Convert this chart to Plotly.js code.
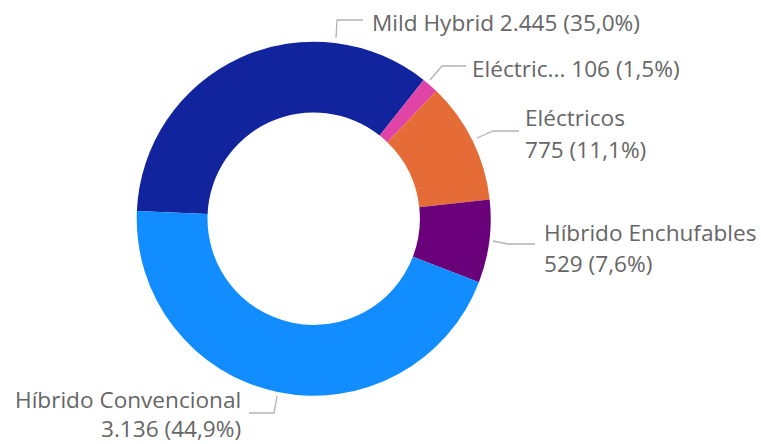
<!DOCTYPE html>
<html>
<head>
<meta charset="utf-8">
<script src="https://cdn.plot.ly/plotly-3.0.1.min.js"></script>
<style>html,body{margin:0;padding:0;background:#fff;}#chart{width:761px;height:444px;}</style>
</head>
<body>
<div id="chart"></div>
<script>
const categories = ['Mild Hybrid', 'Eléctric...', 'Eléctricos', 'Híbrido Enchufables', 'Híbrido Convencional'];
const values = [2445, 106, 775, 529, 3136];
const colors = ['#12239E', '#E044A7', '#E66C37', '#6B007B', '#118DFF'];

const W = 761, H = 444;
const total = values.reduce((a, b) => a + b, 0);
function fmtNum(v) { return String(v).replace(/\B(?=(\d{3})+(?!\d))/g, '.'); }
function fmtPct(v) { return (v / total * 100).toFixed(1).replace('.', ',') + '%'; }
function valText(i) { return fmtNum(values[i]) + ' (' + fmtPct(values[i]) + ')'; }
const px = x => x / W;
const py = y => 1 - y / H;

const font = {family: 'Open Sans, Noto Sans, sans-serif', size: 22.6, color: '#666666'};

// label layout: lines, x(px), y(px) of first line, line step, anchor
const labelLayout = [
  {lines: [categories[0] + ' ' + valText(0)], x: 371, y: 22, step: 31, anchor: 'left'},
  {lines: [categories[1] + ' ' + valText(1)], x: 471, y: 68, step: 31, anchor: 'left'},
  {lines: [categories[2], valText(2)], x: 524, y: 118, step: 31, anchor: 'left'},
  {lines: [categories[3], valText(3)], x: 543, y: 232, step: 31, anchor: 'left'},
  {lines: [categories[4], valText(4)], x: 242, y: 399, step: 29, anchor: 'right'}
];
const leaders = [
  [[336, 38], [337, 20], [363, 20]],
  [[430, 80], [442, 66], [466, 66]],
  [[477, 138], [493, 131], [519, 131]],
  [[493, 241], [508, 244], [535, 244]],
  [[277, 396], [274, 413], [249, 413]]
];

const annotations = [];
labelLayout.forEach(l => {
  l.lines.forEach((t, k) => {
    annotations.push({
      text: t, xref: 'paper', yref: 'paper',
      x: px(l.x), y: py(l.y + k * l.step),
      xanchor: l.anchor, yanchor: 'middle', showarrow: false,
      font: font, align: l.anchor, borderpad: 0
    });
  });
});
const shapes = leaders.map(pts => ({
  type: 'path', xref: 'paper', yref: 'paper',
  path: 'M' + pts.map(p => px(p[0]) + ',' + py(p[1])).join(' L'),
  line: {color: '#B3B3B3', width: 1.3}
}));

const cx = 313.7, cy = 218.7, r = 177;
const trace = {
  type: 'pie',
  labels: categories,
  values: values,
  hole: 0.6,
  sort: false,
  direction: 'clockwise',
  rotation: 272.5,
  textinfo: 'none',
  marker: {colors: colors, line: {width: 0}},
  domain: {x: [px(cx - r), px(cx + r)], y: [py(cy + r), py(cy - r)]},
  showlegend: false,
  hoverinfo: 'label+value+percent'
};

Plotly.newPlot('chart', [trace], {
  width: W, height: H,
  margin: {l: 0, r: 0, t: 0, b: 0},
  paper_bgcolor: '#ffffff',
  showlegend: false,
  annotations: annotations,
  shapes: shapes
}, {displayModeBar: false, staticPlot: true});
</script>
</body>
</html>
